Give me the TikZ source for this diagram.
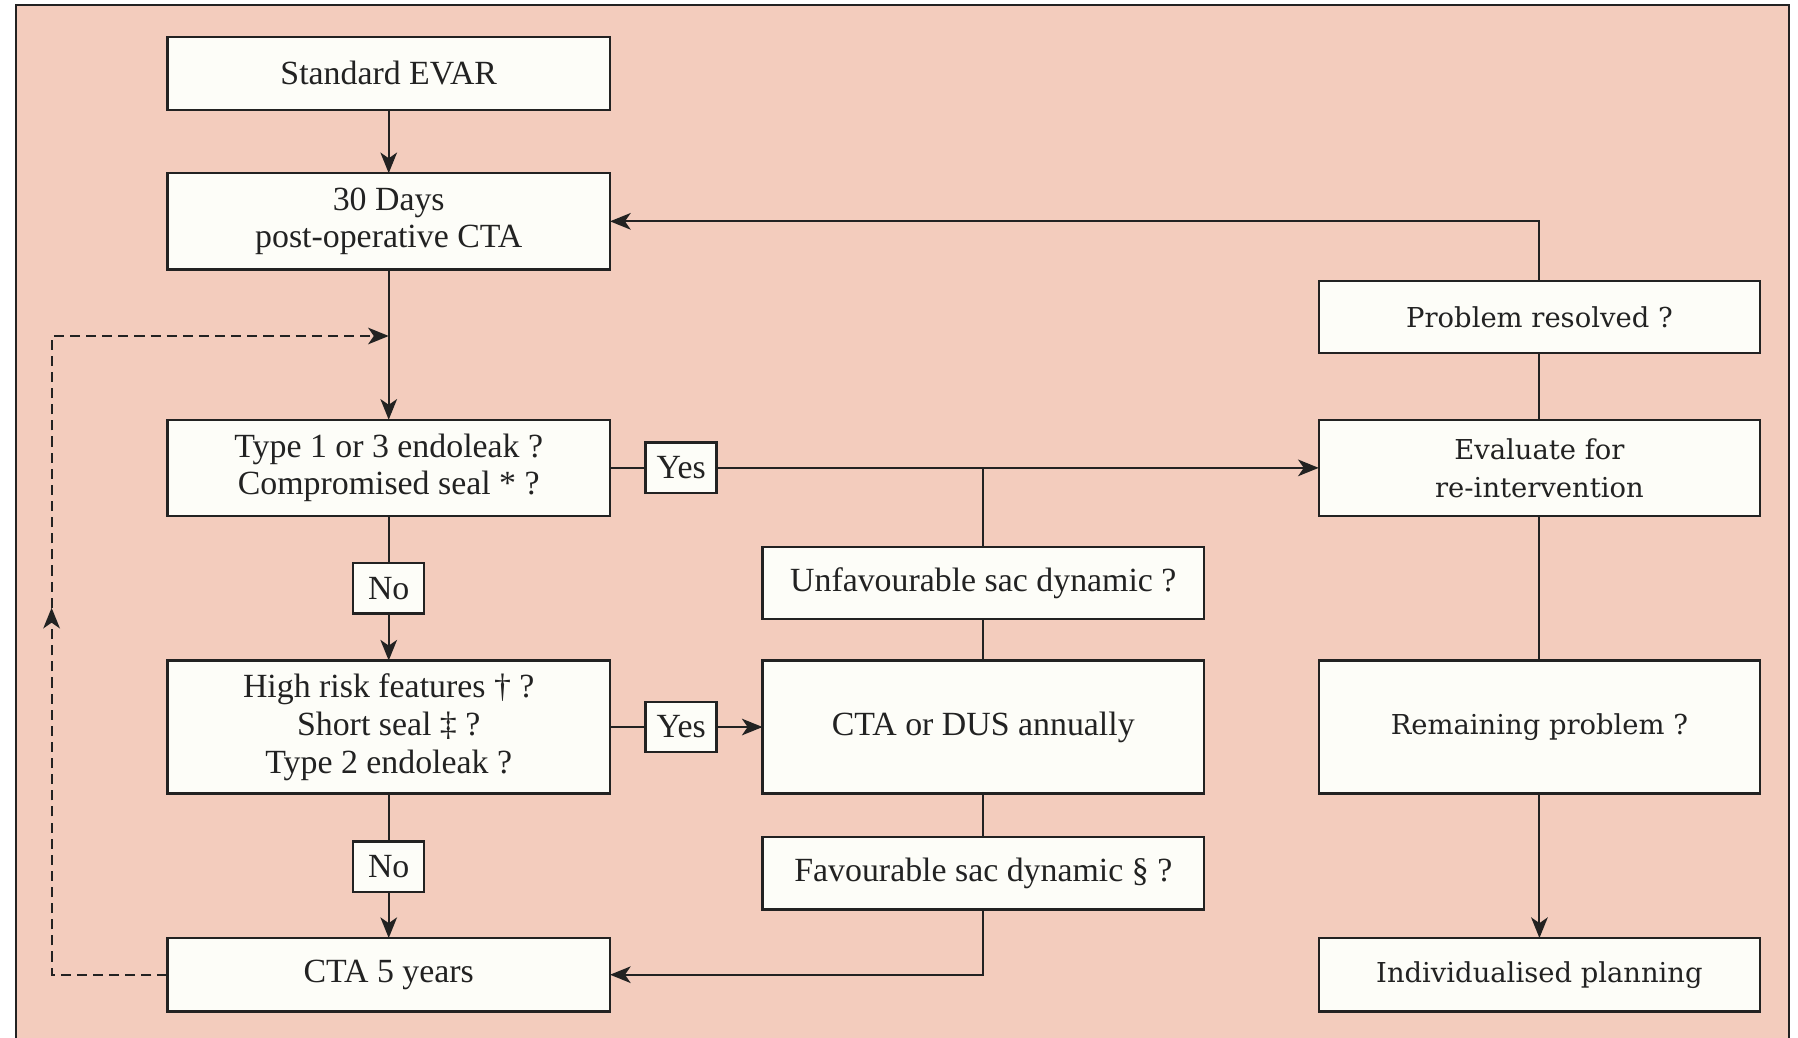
\documentclass[tikz,border=0pt]{standalone}
\usepackage{fontspec}
\setmainfont{Liberation Serif}
\newfontfamily\widefont{DejaVu Serif}
\usetikzlibrary{arrows.meta, positioning}
\definecolor{salmon}{RGB}{243,204,189}
\definecolor{paper}{RGB}{253,253,248}
\definecolor{ink}{RGB}{34,34,34}

\begin{document}
\begin{tikzpicture}[>={Stealth[length=1.8mm,width=1.45mm,inset=.5mm]}]
 \tikzstyle{evarbox}=[rectangle,draw=ink,fill=paper,line width=.6pt,
   minimum width=3.86cm,minimum height=.64cm,align=center,outer sep=0pt,
   inner sep=2pt,text=ink,font=\fontsize{8.4}{9.4}\selectfont]
 \tikzstyle{widebox}=[evarbox,minimum width=3.85cm,
   font=\widefont\fontsize{6.8}{9.4}\selectfont]
 \tikzstyle{tagbox}=[evarbox,minimum width=.62cm,minimum height=.44cm]
 \tikzstyle{link}=[draw=ink,line width=.5pt]
 \useasboundingbox (0,0) rectangle (15.68,-9.05);
 \clip (0,0) rectangle (15.68,-9.05);
 \fill[white] (0,0) rectangle (15.68,-9.05);
 \draw[ink,line width=.6pt,fill=salmon] (.14,-.045) rectangle (15.60,-9.40);
 \node (evar) [evarbox] at (3.39,-.64) {Standard EVAR};
 \node (days) [evarbox,below=.55cm of evar,minimum height=.84cm]
   {30 Days\\post-operative CTA};
 \node (leak) [evarbox,below=1.31cm of days,minimum height=.84cm]
   {Type 1 or 3 endoleak ?\\Compromised seal * ?};
 \node (risk) [evarbox,below=1.26cm of leak,minimum height=1.16cm]
   {High risk features † ?\\Short seal ‡ ?\\Type 2 endoleak ?};
 \node (fiveyr) [evarbox,below=1.26cm of risk] {CTA 5 years};
 \node (noleak) [tagbox,below=.41cm of leak] {No};
 \node (norisk) [tagbox,below=.42cm of risk] {No};
 \node (yesleak) [tagbox,right=.31cm of leak] {Yes};
 \node (yesrisk) [tagbox,right=.31cm of risk] {Yes};
 \node (annual) [evarbox,right=1.33cm of risk,minimum width=3.85cm,
   minimum height=1.16cm] {CTA or DUS annually};
 \node (unfav) [evarbox,above=.36cm of annual,minimum width=3.85cm,
   minimum height=.63cm] {Unfavourable sac dynamic ?};
 \node (fav) [evarbox,below=.38cm of annual,minimum width=3.85cm,
   minimum height=.63cm] {Favourable sac dynamic § ?};
 \node (remain) [widebox,right=1.00cm of annual,minimum height=1.16cm]
   {Remaining problem ?};
 \node (reeval) [widebox,above=1.26cm of remain,minimum height=.84cm]
   {Evaluate for\\re-intervention};
 \node (resolved) [widebox,above=.58cm of reeval,minimum height=.63cm]
   {Problem resolved ?};
 \node (plan) [widebox,below=1.26cm of remain] {Individualised planning};
 \coordinate (loopmid) at (.45,-5.30);
 \coordinate (looptop) at (.45,-2.93);
 \coordinate (joint) at (days |- looptop);
 \draw[link,->] (evar) -- (days);
 \draw[link,->] (days) -- (leak);
 \draw[link] (leak) -- (yesleak);
 \draw[link,->] (yesleak) -- (reeval);
 \draw[link] (unfav) -- (unfav |- yesleak);
 \draw[link] (unfav) -- (annual);
 \draw[link] (annual) -- (fav);
 \draw[link,->] (fav) |- (fiveyr);
 \draw[link] (leak) -- (noleak);
 \draw[link,->] (noleak) -- (risk);
 \draw[link] (risk) -- (norisk);
 \draw[link,->] (norisk) -- (fiveyr);
 \draw[link] (risk) -- (yesrisk);
 \draw[link,->] (yesrisk) -- (annual);
 \draw[link] (reeval) -- (resolved);
 \draw[link,->] (resolved) |- (days);
 \draw[link] (reeval) -- (remain);
 \draw[link,->] (remain) -- (plan);
 \draw[link,dash pattern=on 2.5pt off 1.5pt,->] (fiveyr) -| (loopmid);
 \draw[link,dash pattern=on 2.5pt off 1.5pt,->] (loopmid) -- (looptop)
   -- (joint);
\end{tikzpicture}
\end{document}
